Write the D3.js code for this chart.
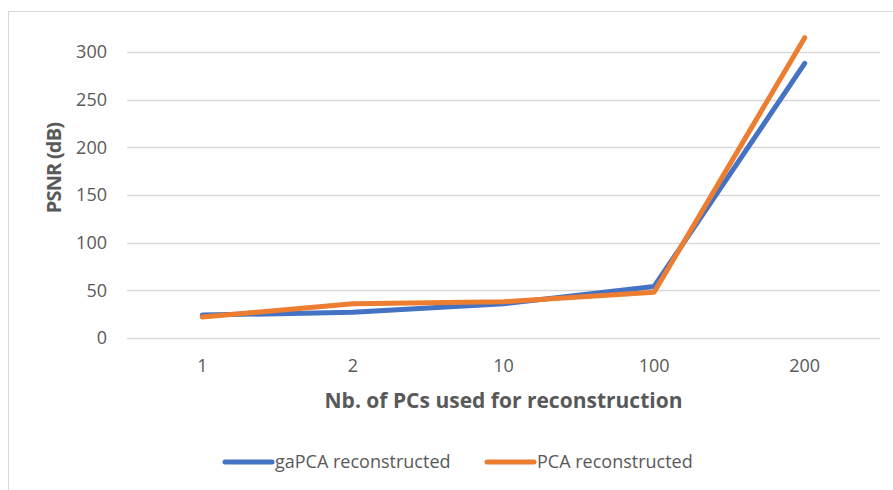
<!DOCTYPE html>
<html>
<head>
<meta charset="utf-8">
<script src="https://cdn.jsdelivr.net/npm/d3@7"></script>
<style>
  body { margin: 0; background: #fff; }
  text { font-family: "Open Sans", sans-serif; fill: #595959; }
</style>
</head>
<body>
<div id="chart"></div>
<script>
// data
const categories = ["1", "2", "10", "100", "200"];
const gaPCA = [24, 27, 36, 54, 288];
const pca = [22, 36, 38, 48, 315];
const yTicks = [0, 50, 100, 150, 200, 250, 300];
const seriesNames = ["gaPCA reconstructed", "PCA reconstructed"];

const W = 893, H = 490;
const margin = { top: 52, right: 13, bottom: 152, left: 127 },
    width = W - margin.left - margin.right,
    height = H - margin.top - margin.bottom;

const svg = d3.select("#chart").append("svg")
    .attr("width", W)
    .attr("height", H);

// chart border
svg.append("rect")
    .attr("x", 8.5).attr("y", 11.5)
    .attr("width", 1000).attr("height", 1000)
    .attr("fill", "none")
    .attr("stroke", "#d9d9d9");

const g = svg.append("g")
    .attr("transform", `translate(${margin.left}, ${margin.top})`);

const x = d3.scaleBand().domain(categories).range([0, width]);
const y = d3.scaleLinear().domain([0, 300]).range([height, 0]);

// gridlines
g.selectAll(".grid")
    .data(yTicks)
    .enter().append("line")
    .attr("x1", 0).attr("x2", width)
    .attr("y1", d => Math.round(y(d)) + 0.5)
    .attr("y2", d => Math.round(y(d)) + 0.5)
    .attr("stroke", "#d9d9d9")
    .attr("stroke-width", 1.3);

// y tick labels
g.selectAll(".ytick")
    .data(yTicks)
    .enter().append("text")
    .attr("x", -20)
    .attr("y", d => y(d))
    .attr("dy", "0.35em")
    .attr("text-anchor", "end")
    .style("font-size", "18px")
    .text(d => d);

// x tick labels
g.selectAll(".xtick")
    .data(categories)
    .enter().append("text")
    .attr("x", d => x(d) + x.bandwidth() / 2)
    .attr("y", height + 28)
    .attr("dy", "0.35em")
    .attr("text-anchor", "middle")
    .style("font-size", "18px")
    .text(d => d);

// axis titles
svg.append("text")
    .attr("x", margin.left + width / 2)
    .attr("y", 401)
    .attr("dy", "0.35em")
    .attr("text-anchor", "middle")
    .style("font-size", "21px")
    .style("font-weight", "bold")
    .text("Nb. of PCs used for reconstruction");

svg.append("text")
    .attr("transform", "translate(54, 168) rotate(-90)")
    .attr("dy", "0.35em")
    .attr("text-anchor", "middle")
    .style("font-size", "20px")
    .style("letter-spacing", "-0.8px")
    .style("font-weight", "bold")
    .text("PSNR (dB)");

// lines
const color = d3.scaleOrdinal().domain(seriesNames).range(["#4472C4", "#ED7D31"]);
const line = d3.line()
    .x((d, i) => x(categories[i]) + x.bandwidth() / 2)
    .y(d => y(d));

[gaPCA, pca].forEach((s, k) => {
    g.append("path")
        .datum(s)
        .attr("d", line)
        .attr("fill", "none")
        .attr("stroke", color(seriesNames[k]))
        .attr("stroke-width", 5)
        .attr("stroke-linejoin", "round")
        .attr("stroke-linecap", "round");
});

// legend
const legendX = [225, 487];
const legend = svg.selectAll(".legend")
    .data(seriesNames)
    .enter().append("g")
    .attr("transform", (d, i) => `translate(${legendX[i]}, 462)`);

legend.append("line")
    .attr("x1", 0).attr("x2", 47)
    .attr("stroke", color)
    .attr("stroke-width", 5)
    .attr("stroke-linecap", "round");

legend.append("text")
    .attr("x", 50)
    .attr("dy", "0.35em")
    .style("font-size", "18px")
    .text(d => d);
</script>
</body>
</html>
